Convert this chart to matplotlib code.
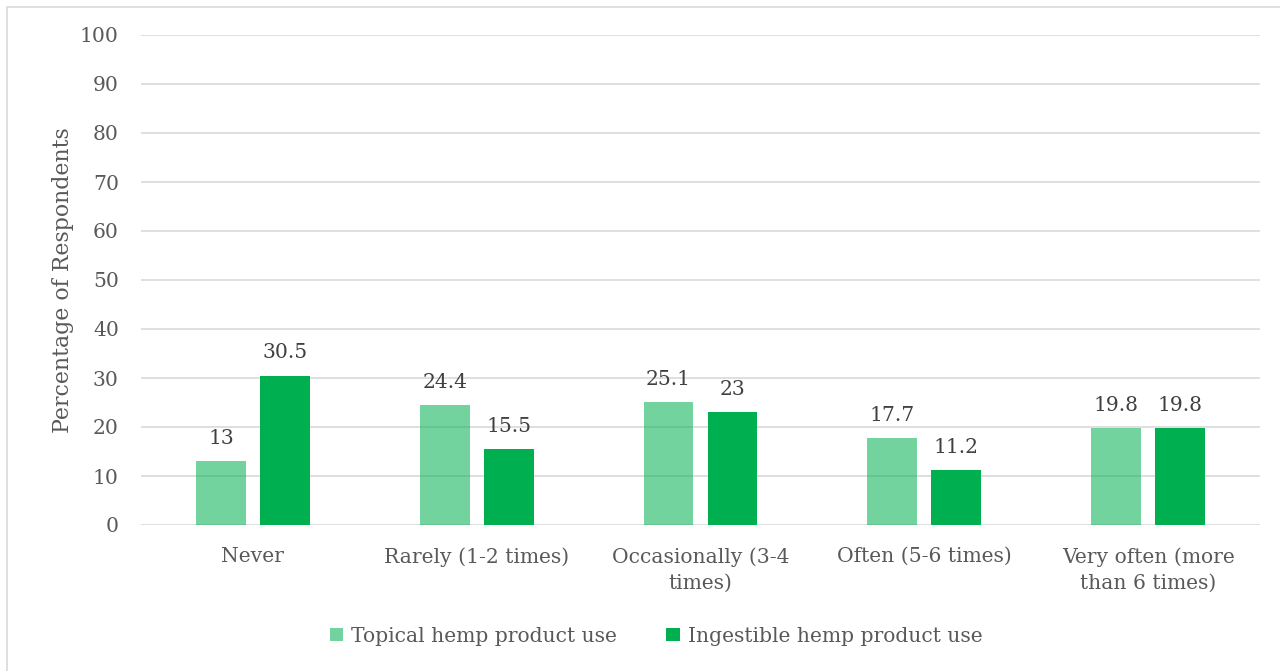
import matplotlib
matplotlib.use("Agg")
import matplotlib.pyplot as plt
import numpy as np
from matplotlib.patches import Rectangle

categories = ["Never", "Rarely (1-2 times)", "Occasionally (3-4\ntimes)",
              "Often (5-6 times)", "Very often (more\nthan 6 times)"]
topical = [13, 24.4, 25.1, 17.7, 19.8]
ingestible = [30.5, 15.5, 23, 11.2, 19.8]
topical_labels = ["13", "24.4", "25.1", "17.7", "19.8"]
ingestible_labels = ["30.5", "15.5", "23", "11.2", "19.8"]
series_names = ["Topical hemp product use", "Ingestible hemp product use"]
yticks = [0, 10, 20, 30, 40, 50, 60, 70, 80, 90, 100]

plt.rcParams["font.family"] = ["DejaVu Serif"]
W, H = 1280, 671
fig = plt.figure(figsize=(W / 100, H / 100), dpi=100)
fig.patch.set_facecolor("white")

FS = 14.6

# chart frame
fig.patches.append(Rectangle((7 / W, -0.05), 1.2, 1 - 7 / H + 0.05,
                             transform=fig.transFigure, fill=False,
                             edgecolor="#D9D9D9", linewidth=1.2))

ax = fig.add_axes([141 / W, 1 - 525 / H, (1260 - 141) / W, (525 - 35) / H])
x = np.arange(len(categories))
bw = 0.223
off = 0.143
green = "#00B050"
b1 = ax.bar(x - off, topical, bw, color=green, alpha=0.55, zorder=3,
            label=series_names[0])
b2 = ax.bar(x + off, ingestible, bw, color=green, zorder=3,
            label=series_names[1])

for xi, v, s in zip(x, topical, topical_labels):
    ax.text(xi - off, v + 2.7, s, ha="center", va="bottom",
            fontsize=FS, color="#404040")
for xi, v, s in zip(x, ingestible, ingestible_labels):
    ax.text(xi + off, v + 2.7, s, ha="center", va="bottom",
            fontsize=FS, color="#404040")

ax.set_xlim(-0.5, len(categories) - 0.5)
ax.set_ylim(0, 100)
ax.set_yticks(yticks)
ax.yaxis.grid(True, color="#D9D9D9", linewidth=1.2, zorder=0)
ax.set_axisbelow(True)
for sp in ax.spines.values():
    sp.set_visible(False)
ax.tick_params(axis="both", length=0, colors="#595959", labelsize=FS)
ax.tick_params(axis="y", pad=16)
ax.tick_params(axis="x", pad=16)
ax.set_xticks(x)
ax.set_xticklabels(categories, linespacing=1.45)
ax.set_ylabel("Percentage of Respondents", fontsize=15.8, color="#595959",
              labelpad=4)

leg = fig.legend(handles=[b1, b2], labels=series_names, loc="center",
                 bbox_to_anchor=(656 / W, 1 - 636 / H), ncol=2, frameon=False,
                 fontsize=FS, handlelength=0.65, handleheight=0.65,
                 handletextpad=0.4, columnspacing=2.45)
for t in leg.get_texts():
    t.set_color("#595959")

fig.savefig("out.png", dpi=100, facecolor="white")
